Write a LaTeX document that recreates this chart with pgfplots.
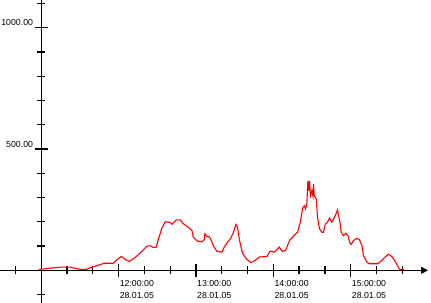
\documentclass[border=0pt]{standalone}
\usepackage{pgfplots}
\pgfplotsset{compat=1.18}
\usepackage{fontspec}
\setmainfont{Liberation Sans}
\usetikzlibrary{arrows.meta}
\pgfplotstableread{
m v
-2.0 3
4.0 7
10.9 11
14.8 13
22.6 13
26.4 8
30.3 4
35.0 4
38.1 11
40.4 15
45.0 22
48.9 29
55.9 29
59.0 45
62.1 57
65.2 45
68.3 36
72.9 53
77.6 76
82.0 100
84.6 101
86.9 94
89.2 96
90.8 128
93.6 174
96.2 200
100.1 197
101.6 190
104.7 208
107.8 208
110.2 192
114.1 177
116.9 164
117.9 137
120.8 121
124.7 117
126.4 126
127.0 151
128.5 139
130.5 138
131.9 123
133.6 100
136.3 78
140.2 75
141.9 96
144.5 116
147.1 134
149.1 157
151.0 189
152.2 178
153.8 123
155.7 79
156.4 68
159.0 48
162.6 32
166.0 41
169.3 55
175.0 57
177.6 79
180.9 75
184.6 96
186.9 78
189.5 82
192.6 123
195.7 142
198.8 157
200.9 198
202.9 260
204.0 266
205.0 253
206.0 273
206.8 369
207.6 328
208.1 369
208.8 307
209.9 328
210.7 307
211.2 355
211.7 307
213.3 294
214.3 218
215.8 171
217.7 157
218.9 157
220.3 191
222.0 198
223.6 216
225.4 198
228.0 225
229.8 249
230.6 225
231.9 191
232.7 157
234.4 143
236.3 153
237.8 143
239.1 116
240.4 107
242.2 123
244.8 132
246.8 126
248.7 102
249.9 61
252.6 34
254.6 27
260.8 27
264.2 41
266.7 55
269.3 66
271.9 57
274.5 37
276.3 20
277.8 4
281.5 3
}\datatable
\begin{document}
\begin{tikzpicture}
\begin{axis}[
  scale only axis, width=431bp, height=303bp,
  xmin=-32, xmax=302.3, ymin=-134.8, ymax=1114.6,
  axis lines=middle, enlargelimits=false, clip=false,
  axis line style={line width=1.4bp, black, -},
  x axis line style={-{Triangle[length=7bp,width=7bp]}, shorten >=3bp},
  y axis line style={-},
  xtick={60,120,180,240},
  xticklabels={{12:00:00\\28.01.05},{13:00:00\\28.01.05},{14:00:00\\28.01.05},{15:00:00\\28.01.05}},
  minor xtick={-20,20,40,80,100,140,160,200,220,260,280},
  ytick={500,1000}, yticklabels={500.00,1000.00},
  minor ytick={-100,100,200,300,400,600,700,800,900,1100},
  tick align=center,
  major tick length=13bp, minor tick length=8bp,
  tick style={line width=1.3bp, black},
  ticklabel style={font=\fontsize{8.8}{12.5}\selectfont},
  xticklabel style={align=left, anchor=north west, inner sep=0pt, xshift=1bp, yshift=-3bp},
  yticklabel style={anchor=base east, inner sep=0pt, xshift=-1.5bp, yshift=1.8bp},
]
\addplot[red, line width=1.1bp] table[x=m, y=v] {\datatable};
\end{axis}
\pgfresetboundingbox
\path (0,0) rectangle (431bp,303bp);
\end{tikzpicture}
\end{document}
